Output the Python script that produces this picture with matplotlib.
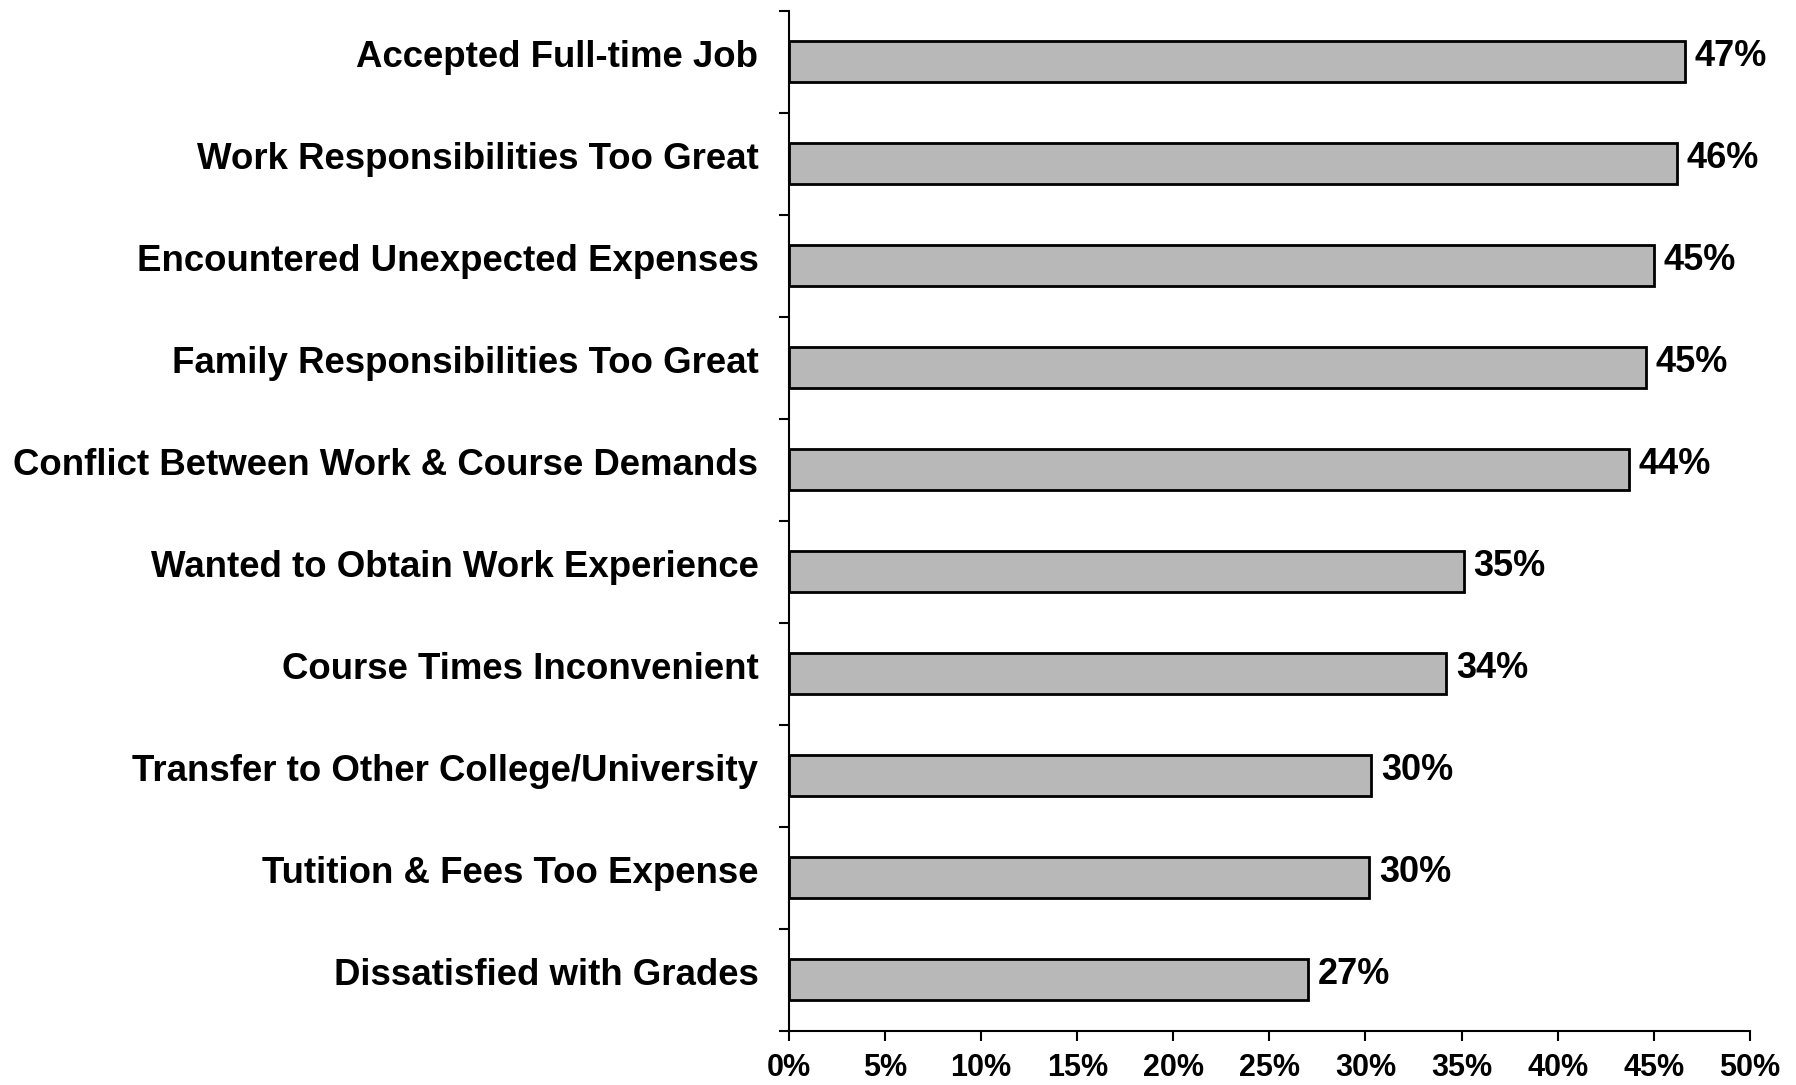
import numpy as np
import matplotlib.pyplot as plt
import matplotlib.transforms as mtransforms
from matplotlib.ticker import FixedLocator, PercentFormatter

# data to plot (top to bottom)
reasons = ['Accepted Full-time Job',
           'Work Responsibilities Too Great',
           'Encountered Unexpected Expenses',
           'Family Responsibilities Too Great',
           'Conflict Between Work & Course Demands',
           'Wanted to Obtain Work Experience',
           'Course Times Inconvenient',
           'Transfer to Other College/University',
           'Tutition & Fees Too Expense',
           'Dissatisfied with Grades']
percents = [46.6, 46.2, 45.0, 44.6, 43.7, 35.1, 34.2, 30.3, 30.2, 27.0]
x_ticks = [0, 5, 10, 15, 20, 25, 30, 35, 40, 45, 50]

plt.rcParams['font.family'] = ['Liberation Sans', 'DejaVu Sans']

fig = plt.figure(figsize=(17.96, 10.85), dpi=100)
ax = fig.add_axes([0.4393, 0.05, 0.5350, 0.94])

# labels sit a little above the bar centres in the original
lift = mtransforms.ScaledTranslation(0, 6 / 72, fig.dpi_scale_trans)
lift_val = mtransforms.ScaledTranslation(0, 4 / 72, fig.dpi_scale_trans)

index = np.arange(len(reasons))
ax.barh(index, percents, 0.4, color='#b8b8b8', edgecolor='black', linewidth=2)
for i, v in enumerate(percents):
    ax.text(v + 0.5, i, '%.0f%%' % v, va='center', ha='left',
            fontsize=26, fontweight='bold', transform=ax.transData + lift_val)

ax.set_ylim(len(reasons) - 0.5, -0.5)
ax.set_xlim(0, 50)
ax.set_yticks(index)
ax.set_yticklabels(reasons, fontsize=26.4, fontweight='bold')
ax.tick_params(axis='y', which='major', length=0, pad=22)
for lab in ax.get_yticklabels():
    lab.set_transform(lab.get_transform() + lift)
ax.yaxis.set_minor_locator(FixedLocator(np.arange(-0.5, len(reasons), 1)))
ax.tick_params(axis='y', which='minor', length=7, width=1.5, direction='out')

ax.set_xticks(x_ticks)
ax.xaxis.set_major_formatter(PercentFormatter(decimals=0))
ax.tick_params(axis='x', length=7, width=1.5, direction='out', pad=9)
for lab in ax.get_xticklabels():
    lab.set_fontsize(22)
    lab.set_fontweight('bold')

for s in ['top', 'right']:
    ax.spines[s].set_visible(False)
for s in ['left', 'bottom']:
    ax.spines[s].set_linewidth(1.5)

plt.savefig('out.png', dpi=100)
